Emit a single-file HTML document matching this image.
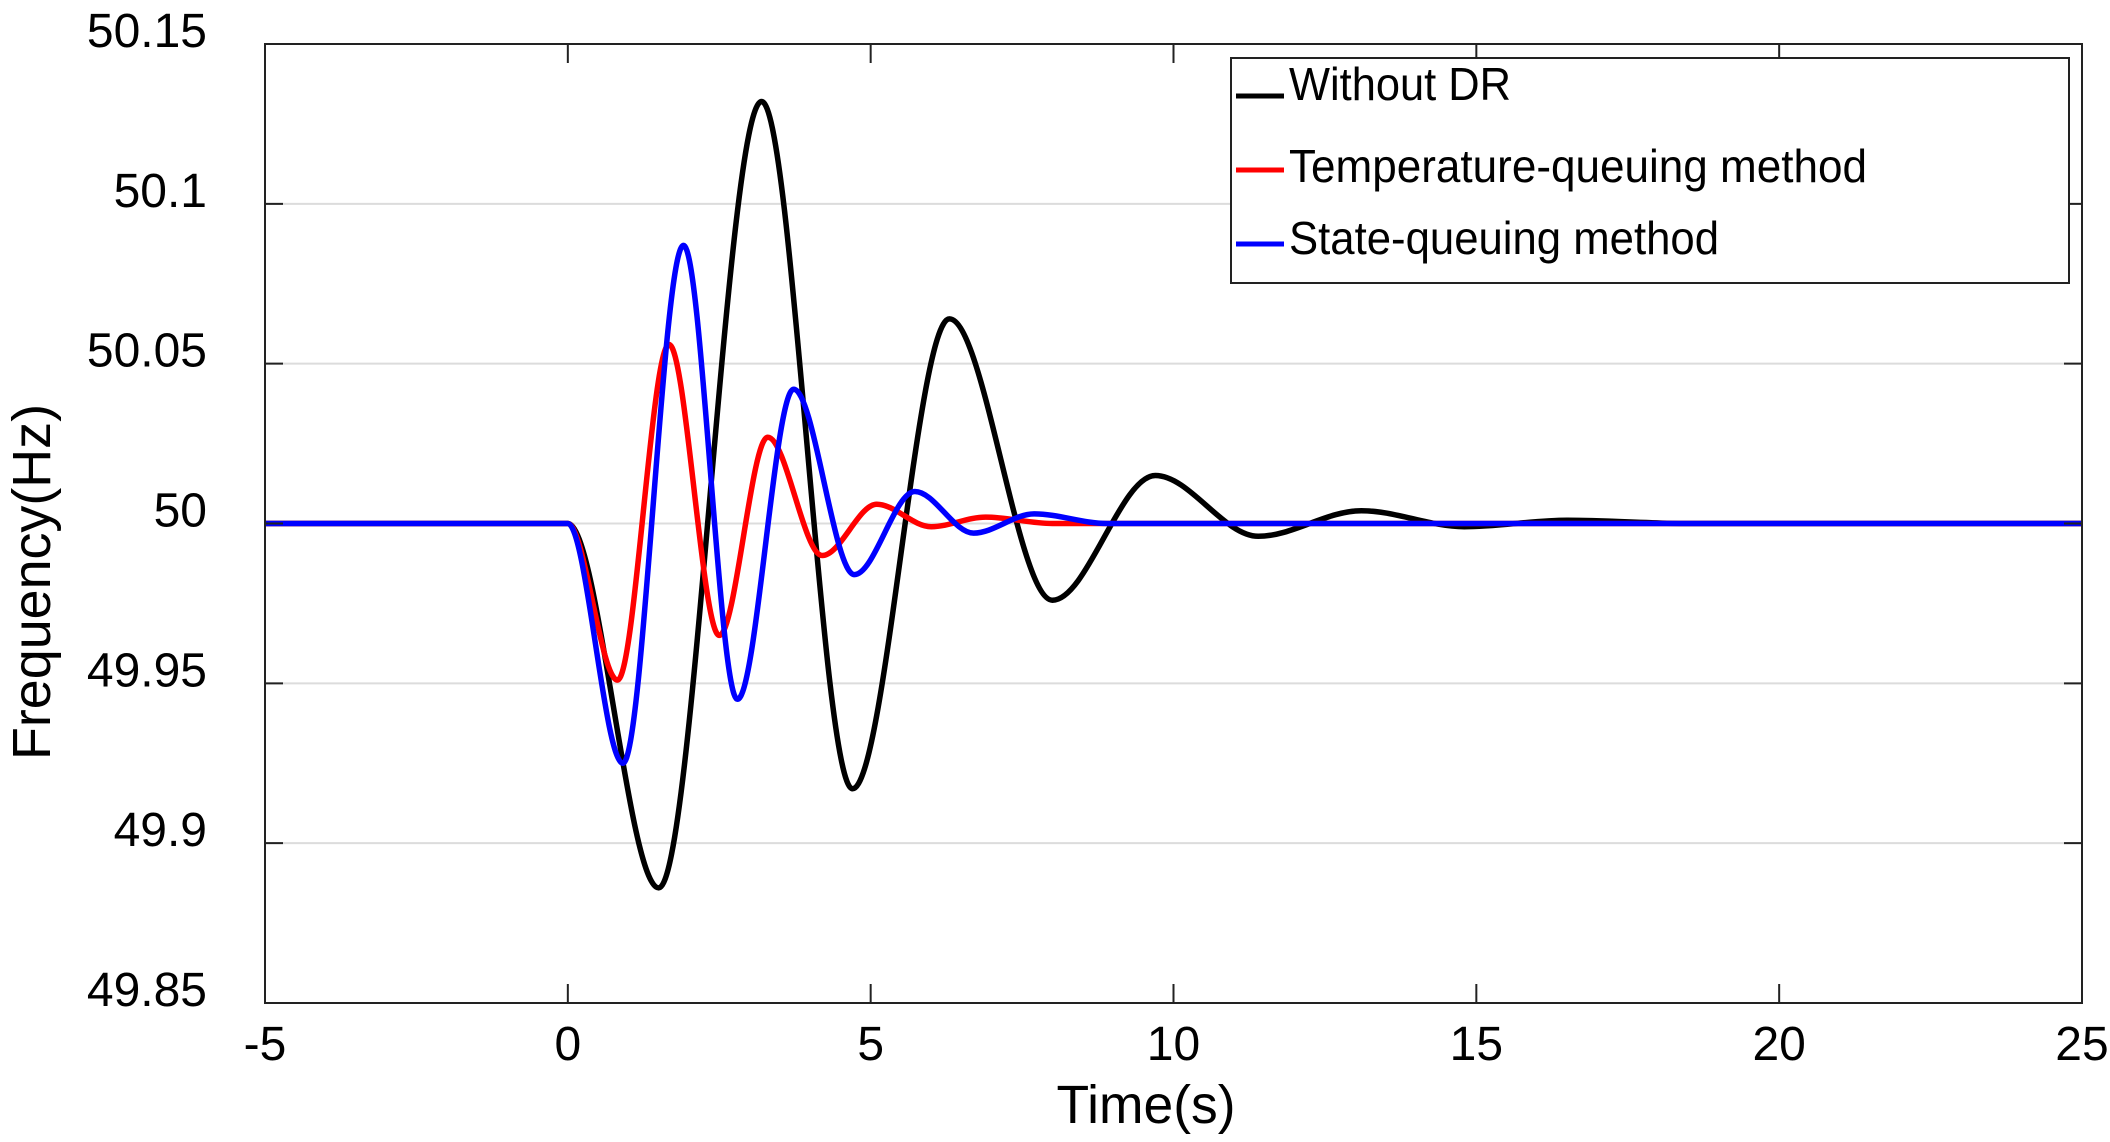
<!DOCTYPE html>
<html><head><meta charset="utf-8"><style>
html,body{margin:0;padding:0;background:#fff;}
svg{display:block;font-family:"Liberation Sans",Arial,sans-serif;}
</style></head><body>
<svg id="chart" width="2110" height="1142" viewBox="0 0 2110 1142">
<g id="grid"></g>
<g id="series"></g>
<g id="axes"></g>
<text x="1146" y="1123" font-size="54" textLength="179" lengthAdjust="spacingAndGlyphs" text-anchor="middle">Time(s)</text>
<text transform="translate(50,582) rotate(-90)" font-size="54" textLength="356" lengthAdjust="spacingAndGlyphs" text-anchor="middle">Frequency(Hz)</text>
<g>
<rect x="1231" y="58" width="838" height="225" fill="#fff" stroke="#222" stroke-width="2"/>
<g>
<line x1="1236" y1="96" x2="1284" y2="96" stroke="#000" stroke-width="5"/>
<text x="1289" y="100" font-size="46" textLength="222" lengthAdjust="spacingAndGlyphs">Without DR</text></g>
<g>
<line x1="1236" y1="170" x2="1284" y2="170" stroke="#f00" stroke-width="5"/>
<text x="1289" y="182" font-size="46" textLength="578" lengthAdjust="spacingAndGlyphs">Temperature-queuing method</text></g>
<g>
<line x1="1236" y1="244" x2="1284" y2="244" stroke="#00f" stroke-width="5"/>
<text x="1289" y="254" font-size="46" textLength="430" lengthAdjust="spacingAndGlyphs">State-queuing method</text></g>
</g>
</svg>
<script>
const xTicks = [-5, 0, 5, 10, 15, 20, 25];
const yTicks = [49.85, 49.9, 49.95, 50, 50.05, 50.1, 50.15];
const yTickLabels = ["49.85", "49.9", "49.95", "50", "50.05", "50.1", "50.15"];
const tBlack = [-5, 0, 1.5, 3.2, 4.7, 6.3, 8.0, 9.7, 11.4, 13.1, 14.8, 16.5, 18.5, 25];
const fBlack = [50, 50, 49.886, 50.132, 49.917, 50.064, 49.976, 50.015, 49.996, 50.004, 49.999, 50.001, 50, 50];
const tRed = [-5, 0, 0.82, 1.67, 2.5, 3.3, 4.2, 5.1, 6.0, 6.9, 8.0, 25];
const fRed = [50, 50, 49.951, 50.056, 49.965, 50.027, 49.99, 50.006, 49.999, 50.002, 50, 50];
const tBlue = [-5, 0, 0.91, 1.91, 2.8, 3.73, 4.73, 5.73, 6.7, 7.7, 8.9, 25];
const fBlue = [50, 50, 49.925, 50.087, 49.945, 50.042, 49.984, 50.01, 49.997, 50.003, 50, 50];

const X0=265, X1=2082, Y0=1003, Y1=44;
const xMin=-5, xMax=25, yMin=49.85, yMax=50.15;
const xs = v => X0 + (v-xMin)/(xMax-xMin)*(X1-X0);
const ys = v => Y0 - (v-yMin)/(yMax-yMin)*(Y0-Y1);
const NS='http://www.w3.org/2000/svg';
function mk(tag, attrs, parent){const e=document.createElementNS(NS,tag);for(const k in attrs)e.setAttribute(k,attrs[k]);parent.appendChild(e);return e;}
const grid=document.getElementById('grid'), axes=document.getElementById('axes'), series=document.getElementById('series');

yTicks.forEach((v,i)=>{
  if(i>0 && i<yTicks.length-1){
    const g=mk('line',{x1:X0,x2:X1,y1:ys(v),y2:ys(v),stroke:'#dcdcdc','stroke-width':2},grid);
    
    
  }
  const tk=mk('line',{x1:X0,x2:X0+18,y1:ys(v),y2:ys(v),stroke:'#222','stroke-width':2},axes);
  
  
  const tk2=mk('line',{x1:X1,x2:X1-18,y1:ys(v),y2:ys(v),stroke:'#222','stroke-width':2},axes);
  
  
  const t=mk('text',{x:207,y:ys(v)+3,'font-size':48,'text-anchor':'end'},axes);
  t.textContent=yTickLabels[i];
  
  
});
xTicks.forEach(v=>{
  const b=mk('line',{x1:xs(v),x2:xs(v),y1:Y0,y2:Y0-19,stroke:'#222','stroke-width':2},axes);
  
  
  const tp=mk('line',{x1:xs(v),x2:xs(v),y1:Y1,y2:Y1+19,stroke:'#222','stroke-width':2},axes);
  
  
  const t=mk('text',{x:xs(v),y:1060,'font-size':48,'text-anchor':'middle'},axes);
  t.textContent=String(v);
  
  
});
const frame=mk('rect',{x:X0,y:Y1,width:X1-X0,height:Y0-Y1,fill:'none',stroke:'#222','stroke-width':2},axes);



function monotonePath(T,F){
  const n=T.length, d=[], m=new Array(n).fill(0);
  for(let i=0;i<n-1;i++) d.push((F[i+1]-F[i])/(T[i+1]-T[i]));
  m[0]=d[0]; m[n-1]=d[n-2];
  for(let i=1;i<n-1;i++){ m[i]=(d[i-1]*d[i]<=0)?0:(d[i-1]+d[i])/2; }
  for(let i=0;i<n-1;i++){
    if(d[i]===0){m[i]=0;m[i+1]=0;continue;}
    const a=m[i]/d[i], b=m[i+1]/d[i], s=a*a+b*b;
    if(s>9){const tau=3/Math.sqrt(s);m[i]=tau*a*d[i];m[i+1]=tau*b*d[i];}
  }
  let p='M'+xs(T[0]).toFixed(1)+','+ys(F[0]).toFixed(1);
  for(let i=0;i<n-1;i++){
    const h=T[i+1]-T[i];
    const c1t=T[i]+h/3, c1f=F[i]+m[i]*h/3, c2t=T[i+1]-h/3, c2f=F[i+1]-m[i+1]*h/3;
    p+=' C'+xs(c1t).toFixed(1)+','+ys(c1f).toFixed(1)+' '+xs(c2t).toFixed(1)+','+ys(c2f).toFixed(1)+' '+xs(T[i+1]).toFixed(1)+','+ys(F[i+1]).toFixed(1);
  }
  return p;
}
const s1=mk('path',{d:monotonePath(tBlack,fBlack),fill:'none',stroke:'#000','stroke-width':5.5},series);


const s2=mk('path',{d:monotonePath(tRed,fRed),fill:'none',stroke:'#f00','stroke-width':5.5},series);


const s3=mk('path',{d:monotonePath(tBlue,fBlue),fill:'none',stroke:'#00f','stroke-width':5.5},series);


</script>
</body></html>
